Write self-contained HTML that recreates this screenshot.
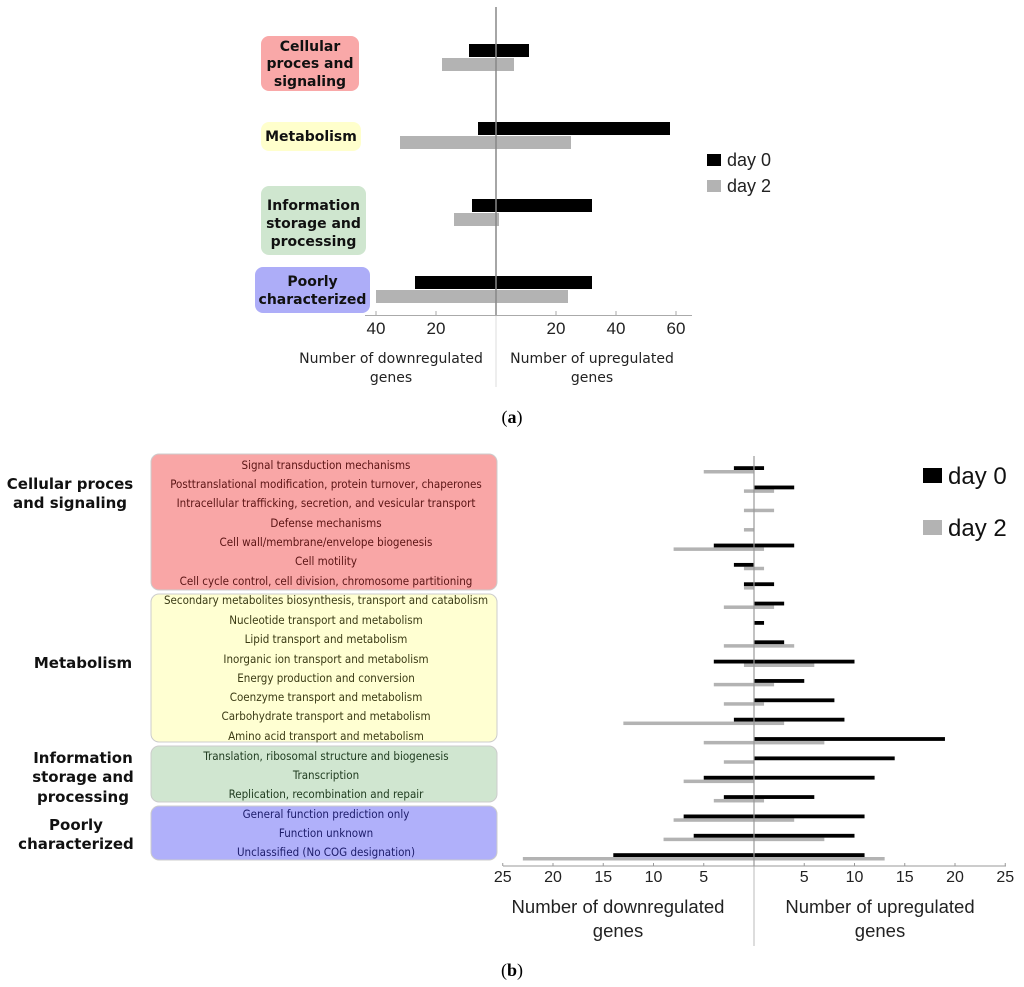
<!DOCTYPE html>
<html><head><meta charset="utf-8"><style>
body{margin:0;background:#fff;}
svg{display:block;font-family:"Liberation Sans",sans-serif;}
</style></head><body>
<svg id="chart" width="1024" height="987" viewBox="0 0 1024 987">
<g id="topPanel"></g>
<g id="botPanel"></g>
</svg>
<script>
// Panel (a) data
const catsA = ["Cellular proces and signaling","Metabolism","Information storage and processing","Poorly characterized"];
const day0DownA = [9, 6, 8, 27];
const day0UpA = [11, 58, 32, 32];
const day2DownA = [18, 32, 14, 40];
const day2UpA = [6, 25, 1, 24];
const ticksA = [40, 20, 20, 40, 60];
const ticksASign = [-1, -1, 1, 1, 1];

// Panel (b) data
const catsB = ["Signal transduction mechanisms","Posttranslational modification, protein turnover, chaperones","Intracellular trafficking, secretion, and vesicular transport","Defense mechanisms","Cell wall/membrane/envelope biogenesis","Cell motility","Cell cycle control, cell division, chromosome partitioning","Secondary metabolites biosynthesis, transport and catabolism","Nucleotide transport and metabolism","Lipid transport and metabolism","Inorganic ion transport and metabolism","Energy production and conversion","Coenzyme transport and metabolism","Carbohydrate transport and metabolism","Amino acid transport and metabolism","Translation, ribosomal structure and biogenesis","Transcription","Replication, recombination and repair","General function prediction only","Function unknown","Unclassified (No COG designation)"];
const day0DownB = [2,0,0,0,4,2,1,0,0,0,4,0,0,2,0,0,5,3,7,6,14];
const day0UpB   = [1,4,0,0,4,0,2,3,1,3,10,5,8,9,19,14,12,6,11,10,11];
const day2DownB = [5,1,1,1,8,1,1,3,0,3,1,4,3,13,5,3,7,4,8,9,23];
const day2UpB   = [0,2,2,0,1,1,0,2,0,4,6,2,1,3,7,0,0,1,4,7,13];
const ticksB = [25,20,15,10,5,5,10,15,20,25];
const ticksBSign = [-1,-1,-1,-1,-1,1,1,1,1,1];

const NS="http://www.w3.org/2000/svg";
function mk(parent,tag,attrs,text){const e=document.createElementNS(NS,tag);for(const k in attrs)e.setAttribute(k,attrs[k]);if(text!==undefined)e.textContent=text;parent.appendChild(e);return e;}

// ---------- Panel A ----------
const topG=document.getElementById('topPanel');
const xA=v=>496+v*3;
const yA=[44,122,199,276];
const boxesA=[[261,36,98,55,"#f9a8a8",["Cellular","proces and","signaling"],[51,68,86]],[261,122,100,29,"#ffffcc",["Metabolism"],[141]],[261,186,105,69,"#cfe6cf",["Information","storage and","processing"],[210,228,246]],[255,267,115,46,"#adadf8",["Poorly","characterized"],[286,304]]];
boxesA.forEach((b,i)=>{
  const r=mk(topG,'rect',{x:b[0],y:b[1],width:b[2],height:b[3],rx:8,fill:b[4]});
  
  
  b[5].forEach((t,j)=>{
    const tx=mk(topG,'text',{x:b[0]+b[2]/2,y:b[6][j],'text-anchor':'middle','font-size':14,'font-weight':'bold',fill:'#111','font-family':'DejaVu Sans, sans-serif'},t);
    
    
  });
});
catsA.forEach((c,i)=>{
  const b=mk(topG,'rect',{x:xA(-day0DownA[i]),y:yA[i],width:xA(day0UpA[i])-xA(-day0DownA[i]),height:13,fill:'#000'});
  
  
  const g=mk(topG,'rect',{x:xA(-day2DownA[i]),y:yA[i]+14,width:xA(day2UpA[i])-xA(-day2DownA[i]),height:13,fill:'#b3b3b3'});
  
  
});
let l=mk(topG,'line',{x1:496,y1:7,x2:496,y2:315,stroke:'#888','stroke-width':1.5});

l=mk(topG,'line',{x1:496,y1:315,x2:496,y2:387,stroke:'#ddd','stroke-width':1});

l=mk(topG,'line',{x1:365,y1:315.5,x2:692,y2:315.5,stroke:'#aaa','stroke-width':1});

ticksA.forEach((t,i)=>{
  const x=xA(t*ticksASign[i]);
  const tk=mk(topG,'line',{x1:x,y1:311,x2:x,y2:315,stroke:'#aaa'});
  
  const tl=mk(topG,'text',{x:x,y:334,'text-anchor':'middle','font-size':17,fill:'#222'},t);
  
});
[["Number of downregulated",391,363],["genes",391,382],["Number of upregulated",592,363],["genes",592,382]].forEach(a=>{
  const t=mk(topG,'text',{x:a[1],y:a[2],'text-anchor':'middle','font-size':14,fill:'#222','font-family':'DejaVu Sans, sans-serif'},a[0]);
  
});
[[154,'#000','day 0'],[180,'#b3b3b3','day 2']].forEach((d,i)=>{
  const r=mk(topG,'rect',{x:707,y:d[0],width:14,height:12,fill:d[1]});
  
  const t=mk(topG,'text',{x:727,y:d[0]+12,'font-size':18,fill:'#222'},d[2]);
  
});
let cap=mk(topG,'text',{x:512,y:423,'text-anchor':'middle','font-size':18,fill:'#000','font-family':'Liberation Serif, serif'});
mk(cap,'tspan',{},'(');mk(cap,'tspan',{'font-weight':'bold'},'a');mk(cap,'tspan',{},')');


// ---------- Panel B ----------
const botG=document.getElementById('botPanel');
const xB=v=>754+v*10.05;
const yB=i=>468+i*19.35;
const boxesB=[[454,136,"#f9a6a6","#5a1414",[0,7]],[594,148,"#ffffd2","#3a3a14",[7,15]],[746,56,"#d0e6d0","#1e3a1e",[15,18]],[806,54,"#b0b0fa","#1c1c6a",[18,21]]];
const lblPos=[465,484,503,523,542,561,581,600,620,639,659,678,697,716,736,756,775,794,814,833,852];
boxesB.forEach((b,i)=>{
  const r=mk(botG,'rect',{x:151,y:b[0],width:346,height:b[1],rx:8,fill:b[2],stroke:'#ccc','stroke-width':1});
  
  for(let k=b[4][0];k<b[4][1];k++){
    const t=mk(botG,'text',{x:326,y:lblPos[k]+4,'text-anchor':'middle','font-size':11.5,fill:b[3],'font-family':'DejaVu Sans Condensed, DejaVu Sans, sans-serif'},catsB[k]);
    
  }
});
[[["Cellular proces","and signaling"],[70,70],[489,508]],[["Metabolism"],[83],[668]],[["Information","storage and","processing"],[83,83,83],[763,782,802]],[["Poorly","characterized"],[76,76],[830,849]]].forEach(g=>{
  g[0].forEach((s,j)=>{
    const t=mk(botG,'text',{x:g[1][j],y:g[2][j],'text-anchor':'middle','font-size':15,'font-weight':'bold',fill:'#111','font-family':'DejaVu Sans, sans-serif'},s);
    
  });
});
catsB.forEach((c,i)=>{
  const y=yB(i);
  if(day2DownB[i]+day2UpB[i]>0){
    const g=mk(botG,'rect',{x:xB(-day2DownB[i]),y:y+2,width:xB(day2UpB[i])-xB(-day2DownB[i]),height:3.5,fill:'#b3b3b3'});
    
  }
  if(day0DownB[i]+day0UpB[i]>0){
    const b=mk(botG,'rect',{x:xB(-day0DownB[i]),y:y-1.8,width:xB(day0UpB[i])-xB(-day0DownB[i]),height:3.8,fill:'#000'});
    
  }
});
l=mk(botG,'line',{x1:754,y1:456,x2:754,y2:866,stroke:'#999','stroke-width':1.2});

l=mk(botG,'line',{x1:754,y1:866,x2:754,y2:946,stroke:'#bbb','stroke-width':1});

l=mk(botG,'line',{x1:503,y1:866,x2:1006,y2:866,stroke:'#999','stroke-width':1});

ticksB.forEach((t,i)=>{
  const x=xB(t*ticksBSign[i]);
  const tk=mk(botG,'line',{x1:x,y1:863,x2:x,y2:866,stroke:'#999'});
  
  const tl=mk(botG,'text',{x:x,y:882,'text-anchor':'middle','font-size':16,fill:'#222'},t);
  
});
[["Number of downregulated",618,913],["genes",618,937],["Number of upregulated",880,913],["genes",880,937]].forEach(a=>{
  const t=mk(botG,'text',{x:a[1],y:a[2],'text-anchor':'middle','font-size':18.5,fill:'#222'},a[0]);
  
});
[[468,'#000','day 0'],[520,'#b3b3b3','day 2']].forEach(d=>{
  const r=mk(botG,'rect',{x:923,y:d[0],width:19,height:15,fill:d[1]});
  
  const t=mk(botG,'text',{x:948,y:d[0]+16,'font-size':24,fill:'#111'},d[2]);
  
});
cap=mk(botG,'text',{x:512,y:976,'text-anchor':'middle','font-size':18,fill:'#000','font-family':'Liberation Serif, serif'});
mk(cap,'tspan',{},'(');mk(cap,'tspan',{'font-weight':'bold'},'b');mk(cap,'tspan',{},')');

</script>
</body></html>
